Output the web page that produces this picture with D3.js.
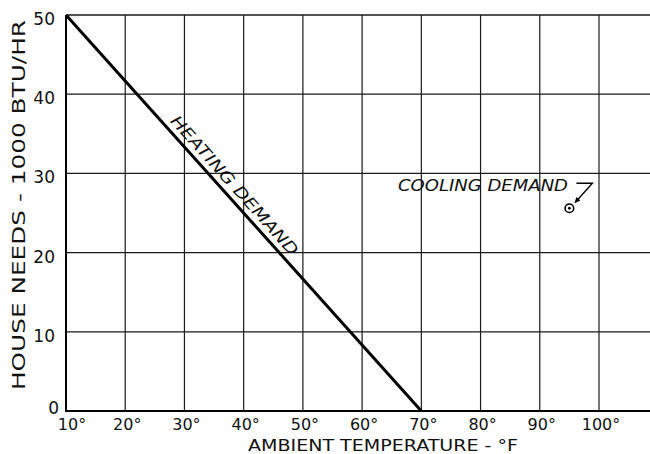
<!DOCTYPE html>
<html>
<head>
<meta charset="utf-8">
<script src="https://cdn.jsdelivr.net/npm/d3@7"></script>
<style>
  html, body { margin: 0; padding: 0; background: #fff; }
  svg { display: block; }
  text { font-family: "DejaVu Sans", sans-serif; fill: #111; }
</style>
</head>
<body>
<svg id="chart" width="650" height="454"></svg>
<script>
// Temperature ticks (°F) and load ticks (1000 BTU/HR)
const tempTicks = [10, 20, 30, 40, 50, 60, 70, 80, 90, 100];
const loadTicks = [0, 10, 20, 30, 40, 50];

// Heating demand falls linearly from 50 at 10°F to 0 at 70°F
const heatingTemps = [10, 70];
const heatingLoads = [50, 0];

// Single cooling-demand reading
const coolingTemp = [95];
const coolingLoad = [25.6];

const svg = d3.select("#chart");
const W = 650, H = 454;

const x = d3.scaleLinear().domain([10, 100]).range([66, 599]);
const y = d3.scaleLinear().domain([0, 50]).range([411, 15]);
const xMax = x.invert(W);

// Grid lines
const g = svg.append("g");
g.selectAll("line.v").data(tempTicks.slice(1)).join("line")
  .attr("x1", d => x(d)).attr("x2", d => x(d))
  .attr("y1", y(50)).attr("y2", y(0))
  .attr("stroke", "#1a1a1a").attr("stroke-width", 1.2);
g.selectAll("line.h").data(loadTicks.slice(1)).join("line")
  .attr("x1", x(10)).attr("x2", x(xMax))
  .attr("y1", d => y(d)).attr("y2", d => y(d))
  .attr("stroke", "#1a1a1a").attr("stroke-width", d => d === 50 ? 1.6 : 1.2);

// Axes lines
svg.append("line")
  .attr("x1", x(10)).attr("x2", x(10)).attr("y1", y(50)).attr("y2", y(0))
  .attr("stroke", "#000").attr("stroke-width", 2);
svg.append("line")
  .attr("x1", x(10) - 1).attr("x2", x(xMax)).attr("y1", y(0)).attr("y2", y(0))
  .attr("stroke", "#000").attr("stroke-width", 2.2);

// Y tick labels
svg.selectAll("text.yt").data(loadTicks).join("text")
  .attr("class", "yt")
  .attr("x", d => d === 0 ? 59 : 55)
  .attr("y", d => d === 0 ? y(d) + 3 : y(d) + 10)
  .attr("text-anchor", "end")
  .attr("font-size", 17)
  .text(d => d);

// X tick labels
svg.selectAll("text.xt").data(tempTicks).join("text")
  .attr("class", "xt")
  .attr("x", d => d === 10 ? x(d) + 6 : x(d) + 2)
  .attr("y", 430)
  .attr("text-anchor", "middle")
  .attr("font-size", 16)
  .text(d => d + "°");

// Axis titles
svg.append("text")
  .attr("x", 248).attr("y", 451)
  .attr("font-size", 16)
  .attr("textLength", 270).attr("lengthAdjust", "spacingAndGlyphs")
  .text("AMBIENT TEMPERATURE - °F");
svg.append("text")
  .attr("transform", "translate(25,390) rotate(-90)")
  .attr("font-size", 17)
  .attr("textLength", 370).attr("lengthAdjust", "spacingAndGlyphs")
  .text("HOUSE NEEDS - 1000 BTU/HR");

// Heating demand line
const heat = heatingTemps.map((t, i) => [t, heatingLoads[i]]);
svg.append("path")
  .attr("d", d3.line().x(d => x(d[0])).y(d => y(d[1]))(heat))
  .attr("fill", "none").attr("stroke", "#000").attr("stroke-width", 3);

// Label along the heating line
const angle = Math.atan2(y(heatingLoads[1]) - y(heatingLoads[0]), x(heatingTemps[1]) - x(heatingTemps[0])) * 180 / Math.PI;
const lt = 37;
const lq = heatingLoads[0] + (lt - heatingTemps[0]) * (heatingLoads[1] - heatingLoads[0]) / (heatingTemps[1] - heatingTemps[0]);
svg.append("text")
  .attr("transform", `translate(${x(lt)},${y(lq)}) rotate(${angle})`)
  .attr("y", -6)
  .attr("text-anchor", "middle")
  .attr("font-size", 16)
  .attr("font-style", "italic")
  .attr("textLength", 182).attr("lengthAdjust", "spacingAndGlyphs")
  .text("HEATING DEMAND");

// Cooling demand point with leader
const cx = x(coolingTemp[0]), cy = y(coolingLoad[0]);
svg.append("circle").attr("cx", cx).attr("cy", cy).attr("r", 4.3)
  .attr("fill", "#fff").attr("stroke", "#000").attr("stroke-width", 1.6);
svg.append("circle").attr("cx", cx).attr("cy", cy).attr("r", 1.4).attr("fill", "#000");
svg.append("path")
  .attr("d", `M${cx + 7},${cy - 25} L${cx + 23},${cy - 25} L${cx + 6},${cy - 6}`)
  .attr("fill", "none").attr("stroke", "#000").attr("stroke-width", 1.4);
// arrowhead
const ang = Math.atan2(19, -17);
const tip = [cx + 5, cy - 5];
const ah = 6, aw = 2.6;
const bx = tip[0] - ah * Math.cos(ang), by = tip[1] - ah * Math.sin(ang);
svg.append("path")
  .attr("d", `M${tip[0]},${tip[1]} L${bx - aw * Math.sin(ang)},${by + aw * Math.cos(ang)} L${bx + aw * Math.sin(ang)},${by - aw * Math.cos(ang)} Z`)
  .attr("fill", "#000");
svg.append("text")
  .attr("x", 398).attr("y", 191)
  .attr("font-size", 16.5)
  .attr("font-style", "italic")
  .attr("textLength", 170).attr("lengthAdjust", "spacingAndGlyphs")
  .text("COOLING DEMAND");
</script>
</body>
</html>
